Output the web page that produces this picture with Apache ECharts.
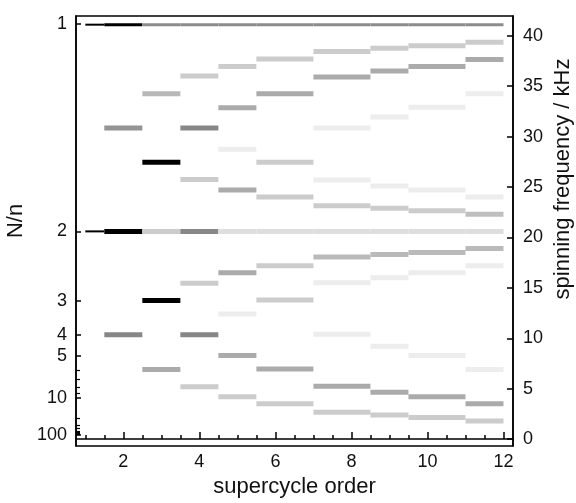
<!DOCTYPE html>
<html>
<head>
<meta charset="utf-8">
<script src="https://cdn.jsdelivr.net/npm/echarts@6/dist/echarts.min.js"></script>
<style>
html,body{margin:0;padding:0;background:#fff;}
#chart{width:576px;height:503px;}
</style>
</head>
<body>
<div id="chart"></div>
<script>
// ---------- data ----------
// maximum spinning frequency (kHz) that corresponds to N/n = 1
const NU_MAX = 41.2;
// left-axis labels (N/n) and minor N/n ticks
const nnLabels = [1, 2, 3, 4, 5, 10, 100];
const nnMinor = [6, 7, 8, 9, 20, 30, 40, 50, 60, 70, 80, 90];
// right-axis tick values (kHz)
const freqTicks = [0, 5, 10, 15, 20, 25, 30, 35, 40];
// x-axis labels and minor ticks (supercycle order)
const orderLabels = [2, 4, 6, 8, 10, 12];
const orderMinor = [1, 1.5, 2.5, 3, 3.5, 4.5, 5, 5.5, 6.5, 7, 7.5, 8.5, 9, 9.5, 10.5, 11, 11.5];

// column spans along the supercycle-order axis
const colStart = [1.0, 1.5, 2.5, 3.5, 4.5, 5.5, 7.0, 8.5, 9.5, 11.0];
const colEnd   = [1.5, 2.5, 3.5, 4.5, 5.5, 7.0, 8.5, 9.5, 11.0, 12.0];

// spinning frequencies (kHz) of the bars in each column, and their darkness (0 white .. 1 black)
const freq_n1  = [41.1, 20.6];
const dark_n1  = [1.0, 1.0];
const freq_n2  = [41.1, 30.85, 20.6, 10.35];
const dark_n2  = [1.0, 0.42, 1.0, 0.47];
const freq_n3  = [41.1, 34.25, 27.45, 20.6, 13.75, 6.9];
const dark_n3  = [0.45, 0.28, 1.0, 0.2, 1.0, 0.33];
const freq_n4  = [41.1, 36.0, 30.85, 25.75, 20.6, 15.45, 10.35, 5.2];
const dark_n4  = [0.45, 0.2, 0.47, 0.2, 0.47, 0.2, 0.47, 0.2];
const freq_n5  = [41.1, 36.95, 32.85, 28.75, 24.7, 20.6, 16.5, 12.4, 8.3, 4.2];
const dark_n5  = [0.45, 0.2, 0.33, 0.07, 0.33, 0.13, 0.33, 0.07, 0.33, 0.2];
const freq_n6  = [41.1, 37.7, 34.25, 27.45, 24.0, 20.6, 17.2, 13.8, 6.95, 3.5];
const dark_n6  = [0.45, 0.2, 0.33, 0.2, 0.2, 0.13, 0.2, 0.2, 0.33, 0.2];
const freq_n8  = [41.1, 38.45, 35.9, 30.85, 25.7, 23.15, 20.6, 18.05, 15.5, 10.4, 5.25, 2.65];
const dark_n8  = [0.45, 0.2, 0.33, 0.07, 0.07, 0.2, 0.13, 0.27, 0.07, 0.07, 0.33, 0.2];
const freq_n9  = [41.1, 38.75, 36.5, 31.95, 25.1, 22.9, 20.6, 18.3, 16.0, 9.2, 4.65, 2.4];
const dark_n9  = [0.45, 0.2, 0.33, 0.07, 0.07, 0.2, 0.13, 0.27, 0.07, 0.07, 0.33, 0.2];
const freq_n10 = [41.1, 39.0, 36.95, 32.9, 24.7, 22.65, 20.6, 18.5, 16.5, 8.3, 4.2, 2.15];
const dark_n10 = [0.45, 0.2, 0.33, 0.07, 0.07, 0.2, 0.13, 0.27, 0.07, 0.07, 0.33, 0.2];
const freq_n12 = [41.1, 39.35, 37.65, 34.25, 24.0, 22.3, 20.6, 18.9, 17.2, 6.9, 3.5, 1.8];
const dark_n12 = [0.45, 0.2, 0.33, 0.07, 0.07, 0.25, 0.13, 0.27, 0.07, 0.07, 0.33, 0.2];

// ---------- build ----------
const colFreqs = [freq_n1, freq_n2, freq_n3, freq_n4, freq_n5, freq_n6, freq_n8, freq_n9, freq_n10, freq_n12];
const colDarks = [dark_n1, dark_n2, dark_n3, dark_n4, dark_n5, dark_n6, dark_n8, dark_n9, dark_n10, dark_n12];
const barData = [];
colFreqs.forEach((fs, c) => {
  fs.forEach((f, i) => barData.push([colStart[c], colEnd[c], f, colDarks[c][i]]));
});

const nnPos = nnLabels.map(k => NU_MAX / k);
const nnMinorPos = nnMinor.map(k => NU_MAX / k);
function nnLabelFor(v) {
  let best = 0;
  nnPos.forEach((p, i) => { if (Math.abs(p - v) < Math.abs(nnPos[best] - v)) best = i; });
  return String(nnLabels[best]);
}
function grayOf(d) {
  const g = Math.round(255 * (1 - d));
  return 'rgb(' + g + ',' + g + ',' + g + ')';
}

const Y_MIN = -0.685, Y_MAX = 41.96;
const X_MIN = 0.755, X_MAX = 12.25;
const FONT = '"Liberation Sans", Arial, Helvetica, sans-serif';
const tickFont = { fontSize: 18, color: '#111', fontFamily: FONT };

const chart = echarts.init(document.getElementById('chart'), null, { renderer: 'canvas' });
chart.setOption({
  animation: false,
  backgroundColor: '#fff',
  grid: { left: 76, right: 63, top: 16, bottom: 51, show: true, borderColor: '#000', borderWidth: 1.5, containLabel: false },
  xAxis: [
    {
      type: 'value', min: X_MIN, max: X_MAX, position: 'bottom',
      name: 'supercycle order', nameLocation: 'middle', nameGap: 30,
      nameTextStyle: { fontSize: 22, color: '#111', fontFamily: FONT },
      axisLine: { show: true, lineStyle: { color: '#000', width: 1.5 } },
      axisTick: { show: true, inside: true, length: 7, customValues: orderLabels, lineStyle: { color: '#000', width: 1.5 } },
      axisLabel: { show: true, customValues: orderLabels, margin: 7, ...tickFont },
      splitLine: { show: false }
    },
    {
      type: 'value', min: X_MIN, max: X_MAX, position: 'bottom',
      axisLine: { show: false },
      axisTick: { show: true, inside: true, length: 4, customValues: orderMinor, lineStyle: { color: '#000', width: 1.5 } },
      axisLabel: { show: false },
      splitLine: { show: false }
    }
  ],
  yAxis: [
    {
      type: 'value', min: Y_MIN, max: Y_MAX, position: 'left',
      axisLine: { show: true, lineStyle: { color: '#000', width: 1.5 } },
      axisTick: { show: true, inside: true, length: 5, customValues: nnPos, lineStyle: { color: '#000', width: 1.5 } },
      axisLabel: { show: true, customValues: nnPos, margin: 9, formatter: v => nnLabelFor(v), ...tickFont },
      splitLine: { show: false }
    },
    {
      type: 'value', min: Y_MIN, max: Y_MAX, position: 'right',
      axisLine: { show: true, lineStyle: { color: '#000', width: 1.5 } },
      axisTick: { show: true, inside: true, length: 6, customValues: freqTicks, lineStyle: { color: '#000', width: 1.5 } },
      axisLabel: { show: true, customValues: freqTicks, margin: 10, ...tickFont },
      splitLine: { show: false }
    },
    {
      type: 'value', min: Y_MIN, max: Y_MAX, position: 'left',
      axisLine: { show: false },
      axisTick: { show: true, inside: true, length: 4, customValues: nnMinorPos, lineStyle: { color: '#000', width: 1.2 } },
      axisLabel: { show: false },
      splitLine: { show: false }
    }
  ],
  graphic: [
    { type: 'text', x: 16, y: 221, rotation: Math.PI / 2,
      style: { text: 'N/n', fontSize: 22, fill: '#111', fontFamily: FONT, align: 'center', verticalAlign: 'middle' } },
    { type: 'text', x: 563, y: 179, rotation: Math.PI / 2,
      style: { text: 'spinning frequency / kHz', fontSize: 22, fill: '#111', fontFamily: FONT, align: 'center', verticalAlign: 'middle' } }
  ],
  series: [
    {
      type: 'custom',
      xAxisIndex: 0, yAxisIndex: 0,
      encode: { x: [0, 1], y: 2 },
      data: barData,
      renderItem: function (params, api) {
        const x0 = api.value(0), x1 = api.value(1), f = api.value(2), d = api.value(3);
        const p0 = api.coord([x0, f]);
        const p1 = api.coord([x1, f]);
        let h = 5;
        if (x0 < 1.2) h = 2;
        else if (f > 40) h = 3;
        return {
          type: 'rect',
          shape: { x: p0[0], y: p0[1] - h / 2, width: p1[0] - p0[0], height: h },
          style: { fill: grayOf(d) }
        };
      }
    }
  ]
});
</script>
</body>
</html>
